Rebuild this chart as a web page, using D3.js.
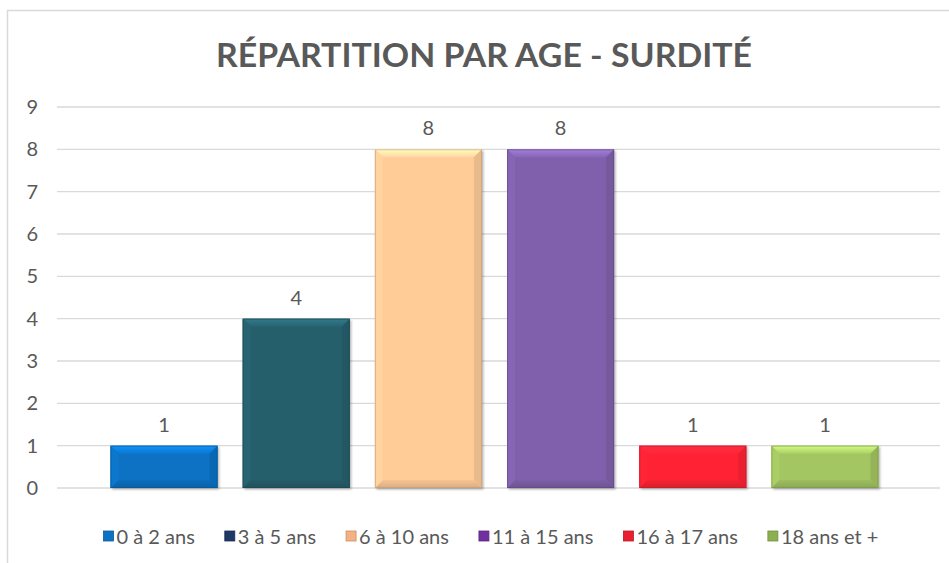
<!DOCTYPE html>
<html>
<head>
<meta charset="utf-8">
<script src="https://cdn.jsdelivr.net/npm/d3@7"></script>
<style>
  html, body { margin: 0; padding: 0; background: #fff; }
  svg { display: block; }
</style>
</head>
<body>
<svg id="chart" width="949" height="563"></svg>
<script>
const title = "RÉPARTITION PAR AGE - SURDITÉ";
const categories = ["0 à 2 ans", "3 à 5 ans", "6 à 10 ans", "11 à 15 ans", "16 à 17 ans", "18 ans et +"];
const values = [1, 4, 8, 8, 1, 1];
const colors = ["#0B72C4", "#265F6C", "#FFCB97", "#8061AC", "#FF2335", "#A3C562"];
const legendColors = ["#0B72C4", "#1F3864", "#F4B183", "#7030A0", "#E8202F", "#8CB050"];
const yTicks = [0, 1, 2, 3, 4, 5, 6, 7, 8, 9];

const svg = d3.select("#chart");
const textColor = "#595959";
const font = "Lato, 'Open Sans', 'DejaVu Sans', sans-serif";

// chart border
svg.append("rect").attr("x", 7.5).attr("y", 10.5).attr("width", 960).attr("height", 600)
  .attr("fill", "#fff").attr("stroke", "#D9D9D9").attr("stroke-width", 1.5);

// title
svg.append("text").text(title)
  .attr("x", 484).attr("y", 67).attr("text-anchor", "middle")
  .attr("font-family", font).attr("font-weight", "bold").attr("font-size", 33)
  .attr("fill", textColor)
  .attr("textLength", 536).attr("lengthAdjust", "spacingAndGlyphs");

const gridX0 = 57, gridX1 = 940;
const y = d3.scaleLinear().domain([0, 9]).range([488, 107]);
const x = d3.scaleBand().domain(categories).range([53, 936]).paddingInner(0.19).paddingOuter(0.435);

// gridlines
svg.append("g").selectAll("line").data(yTicks).join("line")
  .attr("x1", gridX0).attr("x2", gridX1)
  .attr("y1", d => y(d)).attr("y2", d => y(d))
  .attr("stroke", "#D9D9D9").attr("stroke-width", 1.3);

// y axis labels
const yAxis = d3.axisLeft(y).tickValues(yTicks).tickSize(0).tickPadding(0).tickFormat(d3.format("d"));
const ya = svg.append("g").attr("transform", "translate(38,0)").call(yAxis);
ya.select(".domain").remove();
ya.selectAll("text").attr("font-family", font).attr("font-size", 20).attr("fill", textColor);

// gradients / bars with bevel
const defs = svg.append("defs");
const f = defs.append("filter").attr("id", "shadow").attr("x", "-10%").attr("y", "-10%").attr("width", "130%").attr("height", "130%");
f.append("feDropShadow").attr("dx", 1.5).attr("dy", 1.5).attr("stdDeviation", 1.2).attr("flood-color", "#000").attr("flood-opacity", 0.3);

categories.forEach((c, i) => {
  const base = d3.color(colors[i]);
  const gt = defs.append("linearGradient").attr("id", "gt" + i).attr("x1", 0).attr("y1", 0).attr("x2", 0).attr("y2", 1);
  gt.append("stop").attr("offset", 0).attr("stop-color", base.brighter(0.7).formatHex());
  gt.append("stop").attr("offset", 1).attr("stop-color", base.brighter(0.15).formatHex());
  const gb = defs.append("linearGradient").attr("id", "gb" + i).attr("x1", 0).attr("y1", 0).attr("x2", 0).attr("y2", 1);
  gb.append("stop").attr("offset", 0).attr("stop-color", base.darker(0.1).formatHex());
  gb.append("stop").attr("offset", 1).attr("stop-color", base.darker(0.45).formatHex());
});

const bars = svg.append("g").selectAll("g").data(categories).join("g");
bars.each(function(c, i) {
  const g = d3.select(this);
  const x0 = x(c), w = x.bandwidth();
  const y0 = y(values[i]), y1 = y(0);
  const h = y1 - y0;
  const b = Math.min(8, h / 3);
  const base = d3.color(colors[i]);
  g.append("rect").attr("x", x0).attr("y", y0).attr("width", w).attr("height", h)
    .attr("fill", base.formatHex()).attr("filter", "url(#shadow)");
  // top bevel
  g.append("path").attr("d", `M${x0},${y0}L${x0 + w},${y0}L${x0 + w - b},${y0 + b}L${x0 + b},${y0 + b}Z`)
    .attr("fill", `url(#gt${i})`);
  // bottom bevel
  g.append("path").attr("d", `M${x0},${y1}L${x0 + w},${y1}L${x0 + w - b},${y1 - b}L${x0 + b},${y1 - b}Z`)
    .attr("fill", `url(#gb${i})`);
  // left bevel
  g.append("path").attr("d", `M${x0},${y0}L${x0 + b},${y0 + b}L${x0 + b},${y1 - b}L${x0},${y1}Z`)
    .attr("fill", base.brighter(0.12).formatHex());
  // right bevel
  g.append("path").attr("d", `M${x0 + w},${y0}L${x0 + w - b},${y0 + b}L${x0 + w - b},${y1 - b}L${x0 + w},${y1}Z`)
    .attr("fill", base.darker(0.25).formatHex());
  // outline
  g.append("rect").attr("x", x0 + 0.5).attr("y", y0 + 0.5).attr("width", w - 1).attr("height", h - 1)
    .attr("fill", "none").attr("stroke", base.darker(0.8).formatHex()).attr("stroke-width", 1).attr("stroke-opacity", 0.6);
  // data label
  g.append("text").text(values[i])
    .attr("x", x0 + w / 2).attr("y", y0 - 14).attr("text-anchor", "middle")
    .attr("font-family", font).attr("font-size", 20).attr("fill", textColor);
});

// legend
const lg = svg.append("g");
const items = lg.selectAll("g").data(categories).join("g");
items.append("rect").attr("width", 10).attr("height", 10).attr("y", -13)
  .attr("fill", (d, i) => legendColors[i])
  .attr("stroke", (d, i) => d3.color(legendColors[i]).darker(0.6).formatHex()).attr("stroke-width", 0.8);
items.append("text").text(d => d).attr("x", 13).attr("y", 0)
  .attr("font-family", font).attr("font-size", 20).attr("fill", textColor);
const gap = 30;
let cx = 0;
const widths = [];
items.each(function() { widths.push(13 + d3.select(this).select("text").node().getComputedTextLength()); });
const total = d3.sum(widths) + gap * (widths.length - 1);
let start = 491 - total / 2;
items.attr("transform", (d, i) => {
  const t = `translate(${start},544)`;
  start += widths[i] + gap;
  return t;
});
</script>
</body>
</html>
